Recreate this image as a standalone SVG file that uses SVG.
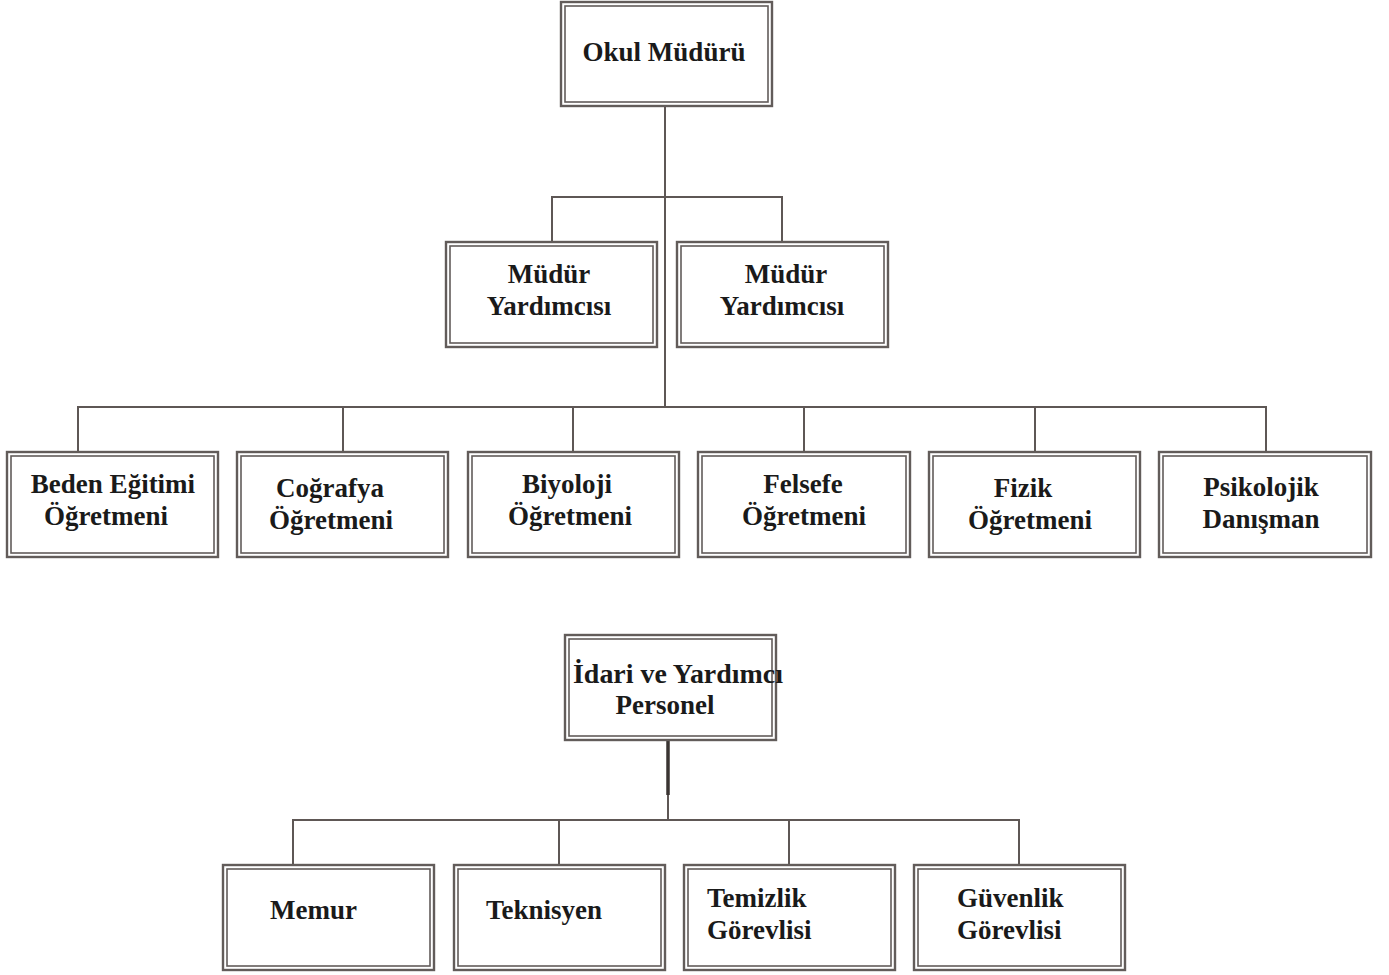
<svg xmlns="http://www.w3.org/2000/svg" width="1389" height="975" viewBox="0 0 1389 975">
<style>
.o{fill:#fff;stroke:#625c5a;stroke-width:2.4}
.i{fill:none;stroke:#625c5a;stroke-width:1.6}
.c{fill:none;stroke:#5e5755;stroke-width:2}
text{font-family:"Liberation Serif","Times New Roman",serif;font-weight:bold;font-size:27px;fill:#1a1a1a}
.m{text-anchor:middle}
</style>
<rect width="1389" height="975" fill="#fff"/>
<g id="connectors">
<path class="c" d="M665 106V407M552 242V197H782V242"/>
<path class="c" d="M78 452V407H1266V452M343 407V452M573 407V452M804 407V452M1035 407V452"/>
<path class="c" d="M668 740V820M293 865V820H1019V865M559 820V865M789 820V865"/>
<path d="M668 740V795" stroke="#3a3432" stroke-width="3.5"/>
</g>
<g id="okul-muduru"><rect class="o" x="561" y="2" width="211" height="104"/><rect class="i" x="565" y="6" width="203" height="96"/><text class="m" x="664" y="61">Okul Müdürü</text></g>
<g id="mudur-yardimcisi-1"><rect class="o" x="446" y="242" width="211" height="105"/><rect class="i" x="450" y="246" width="203" height="97"/><text class="m" x="549" y="283">Müdür</text><text class="m" x="549" y="315">Yardımcısı</text></g>
<g id="mudur-yardimcisi-2"><rect class="o" x="677" y="242" width="211" height="105"/><rect class="i" x="681" y="246" width="203" height="97"/><text class="m" x="786" y="283">Müdür</text><text class="m" x="782" y="315">Yardımcısı</text></g>
<g id="beden-egitimi"><rect class="o" x="7" y="452" width="211" height="105"/><rect class="i" x="11" y="456" width="203" height="97"/><text class="m" x="113" y="493">Beden Eğitimi</text><text class="m" x="106" y="525">Öğretmeni</text></g>
<g id="cografya"><rect class="o" x="237" y="452" width="211" height="105"/><rect class="i" x="241" y="456" width="203" height="97"/><text class="m" x="330" y="497">Coğrafya</text><text class="m" x="331" y="529">Öğretmeni</text></g>
<g id="biyoloji"><rect class="o" x="468" y="452" width="211" height="105"/><rect class="i" x="472" y="456" width="203" height="97"/><text class="m" x="567" y="493">Biyoloji</text><text class="m" x="570" y="525">Öğretmeni</text></g>
<g id="felsefe"><rect class="o" x="698" y="452" width="212" height="105"/><rect class="i" x="702" y="456" width="204" height="97"/><text class="m" x="803" y="493">Felsefe</text><text class="m" x="804" y="525">Öğretmeni</text></g>
<g id="fizik"><rect class="o" x="929" y="452" width="211" height="105"/><rect class="i" x="933" y="456" width="203" height="97"/><text class="m" x="1023" y="497">Fizik</text><text class="m" x="1030" y="529">Öğretmeni</text></g>
<g id="psikolojik"><rect class="o" x="1159" y="452" width="212" height="105"/><rect class="i" x="1163" y="456" width="204" height="97"/><text class="m" x="1261" y="496">Psikolojik</text><text class="m" x="1261" y="528">Danışman</text></g>
<g id="idari-personel"><rect class="o" x="565" y="635" width="211" height="105"/><rect class="i" x="569" y="639" width="203" height="97"/><text x="573" y="683" textLength="210" lengthAdjust="spacingAndGlyphs">İdari ve Yardımcı</text><text class="m" x="665" y="714">Personel</text></g>
<g id="memur"><rect class="o" x="223" y="865" width="211" height="105"/><rect class="i" x="227" y="869" width="203" height="97"/><text x="270" y="919">Memur</text></g>
<g id="teknisyen"><rect class="o" x="454" y="865" width="211" height="105"/><rect class="i" x="458" y="869" width="203" height="97"/><text x="486" y="919">Teknisyen</text></g>
<g id="temizlik"><rect class="o" x="684" y="865" width="211" height="105"/><rect class="i" x="688" y="869" width="203" height="97"/><text x="707" y="907">Temizlik</text><text x="707" y="939">Görevlisi</text></g>
<g id="guvenlik"><rect class="o" x="914" y="865" width="211" height="105"/><rect class="i" x="918" y="869" width="203" height="97"/><text x="957" y="907">Güvenlik</text><text x="957" y="939">Görevlisi</text></g>
</svg>
